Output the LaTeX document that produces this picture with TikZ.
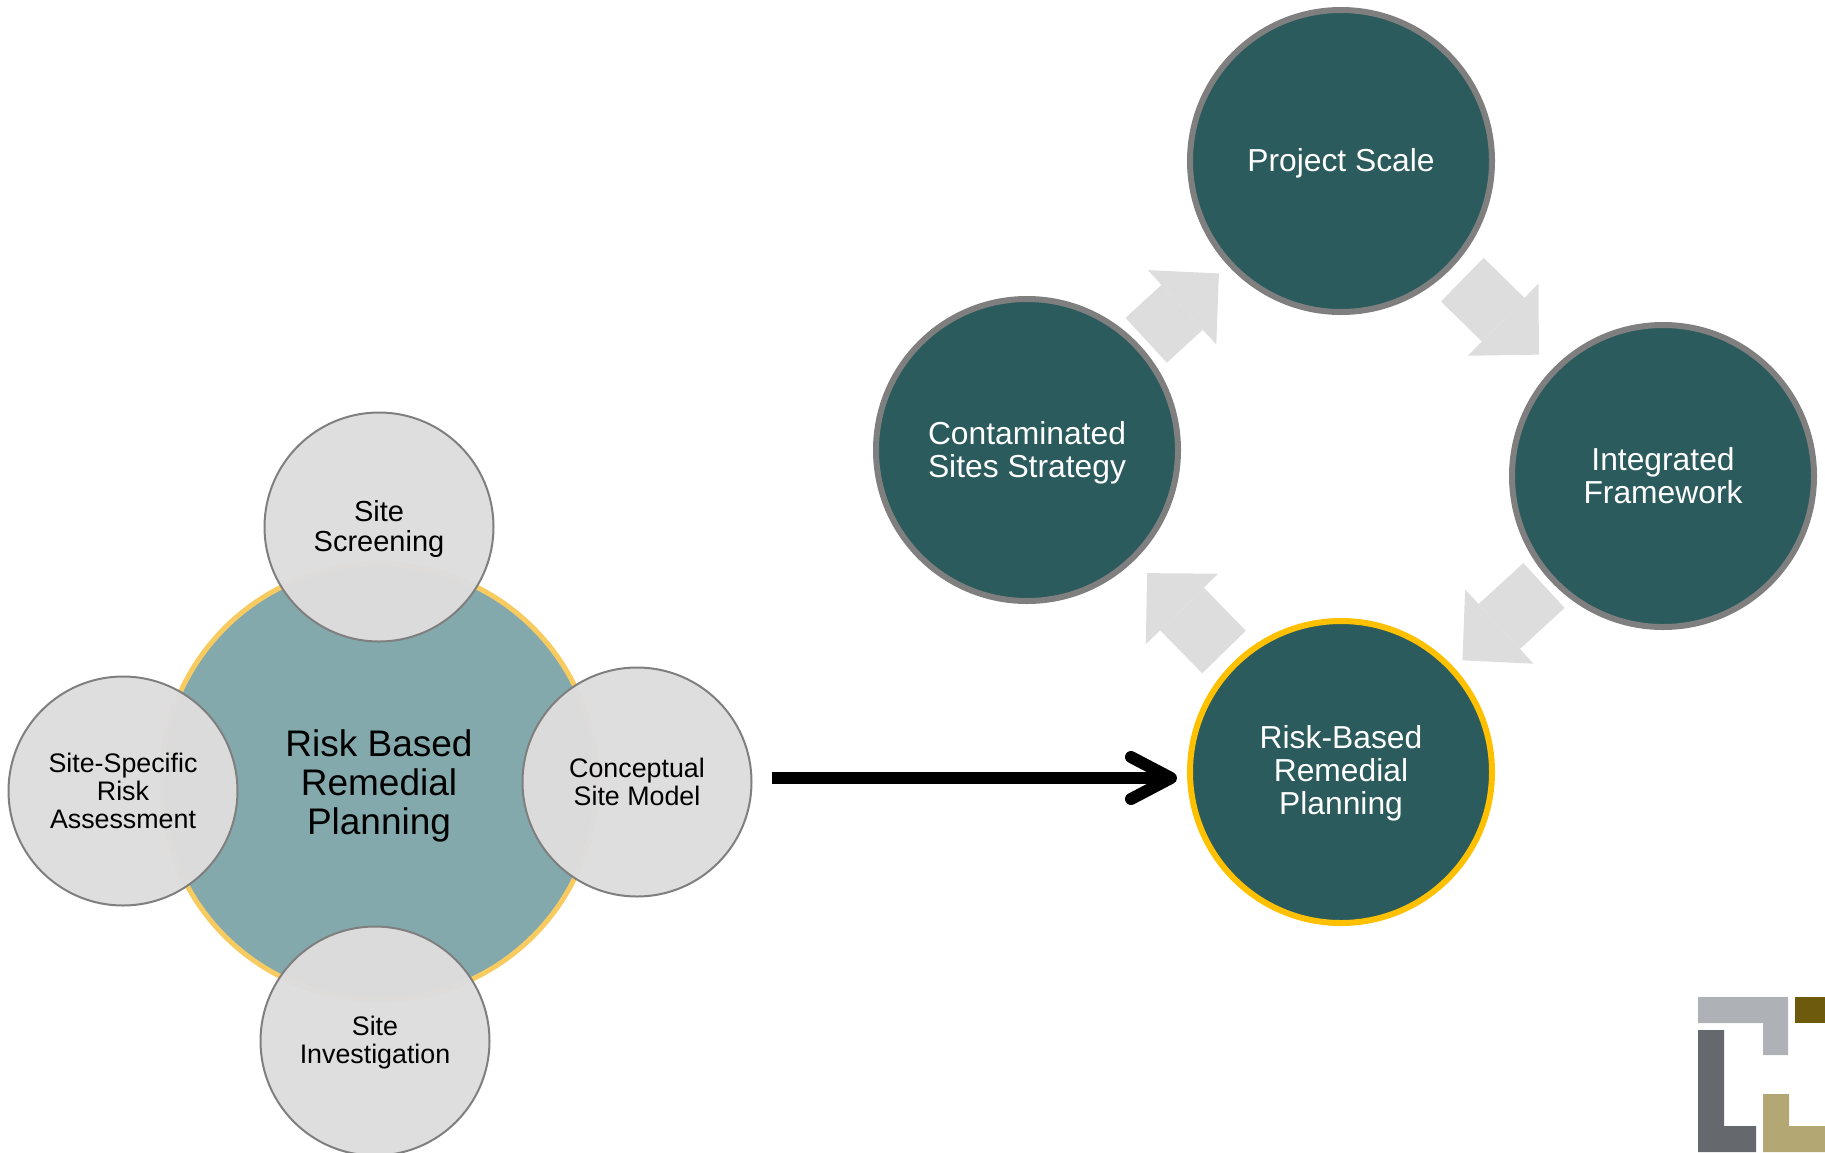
\documentclass[tikz,border=0pt]{standalone}
\usepackage{fontspec}
\setmainfont{Liberation Sans}
\usetikzlibrary{arrows.meta}
\definecolor{tealdark}{HTML}{2B5B5D}
\definecolor{teallight}{HTML}{84A9AC}
\definecolor{ringgold}{HTML}{FFC000}
\definecolor{ringsoft}{HTML}{F8CB60}
\definecolor{ringgrey}{HTML}{7F7F7F}
\definecolor{softgrey}{HTML}{DDDDDD}
\definecolor{logolight}{HTML}{AEB1B5}
\definecolor{logodark}{HTML}{65686C}
\definecolor{logobrown}{HTML}{6E5A0C}
\definecolor{logotan}{HTML}{B3A874}

\begin{document}
\begin{tikzpicture}[
  x = 1pt, y = -1pt,
  every node/.style = {align=center, inner sep=0pt},
  stage/.style = {draw=ringgrey, line width=6pt, circle, fill=tealdark, text=white,
    minimum size=302pt, font=\fontsize{31.8}{33}\selectfont},
  core/.style = {draw=ringsoft, line width=5pt, circle, fill=teallight,
    minimum size=436pt, font=\fontsize{37}{39}\selectfont},
  part/.style = {draw=ringgrey, line width=2pt, circle, fill=softgrey, fill opacity=.98, text opacity=1,
    minimum size=229pt, font=\fontsize{26.8}{28}\selectfont},
  flow/.style = {draw=softgrey, line width=61pt,
    -{Triangle[length=50pt, width=101pt, line width=0pt, fill=softgrey]}},
  lead/.style = {draw=black, line width=12pt,
    -{Straight Barb[length=40pt, width=42pt, round]}},
  lower/.style = {execute at begin node={\rule{0pt}{#1}}}
]

\useasboundingbox (0,0) rectangle (1825,1152);
\clip (0,0) rectangle (1825,1152);

% Left cluster
\node[core, lower=112pt] (remedial) at (379,782) {Risk Based\\Remedial\\Planning};
\node[part, lower=55.8pt, font=\fontsize{29}{30}\selectfont] (screening) at (379,527) {Site\\Screening};
\node[part, lower=49.6pt] (investigation) at (375,1041) {Site\\Investigation};
\node[part] (assessment) at (123,791) {Site-Specific\\Risk\\Assessment};
\node[part] (sitemodel) at (637,782) {Conceptual\\Site Model};

% Right cycle
\node[stage, lower=27.8pt] (scale) at (1341,161) {Project Scale};
\node[stage, lower=60.8pt] (strategy) at (1027,450) {Contaminated\\Sites Strategy};
\node[stage] (framework) at (1663,476) {Integrated\\Framework};
\node[stage, lower=91.2pt, draw=ringgold] (planning) at (1341,772) {Risk-Based\\Remedial\\Planning};

\draw[flow, shorten <=8pt, shorten >=12pt] (strategy) -- (scale);
\draw[flow, shorten <=15.7pt, shorten >=19.6pt] (scale) -- (framework);
\draw[flow, shorten <=7.7pt, shorten >=11pt] (framework) -- (planning);
\draw[flow, shorten <=13.6pt, shorten >=18pt] (planning) -- (strategy);

% Link between the two
\coordinate (linkstart) at (772,778);
\coordinate (linkend) at (1177,778);
\draw[lead] (linkstart) -- (linkend);

% Logo
\fill[logolight] (1698,997) -- (1788,997) -- (1788,1055) -- (1763,1055) -- (1763,1023) -- (1698,1023) -- cycle;
\fill[logobrown] (1795,997) rectangle (1825,1023);
\fill[logodark] (1698,1030) -- (1724,1030) -- (1724,1126) -- (1756,1126) -- (1756,1152) -- (1698,1152) -- cycle;
\fill[logotan] (1763,1094) -- (1789,1094) -- (1789,1126) -- (1825,1126) -- (1825,1152) -- (1763,1152) -- cycle;

\end{tikzpicture}
\end{document}
